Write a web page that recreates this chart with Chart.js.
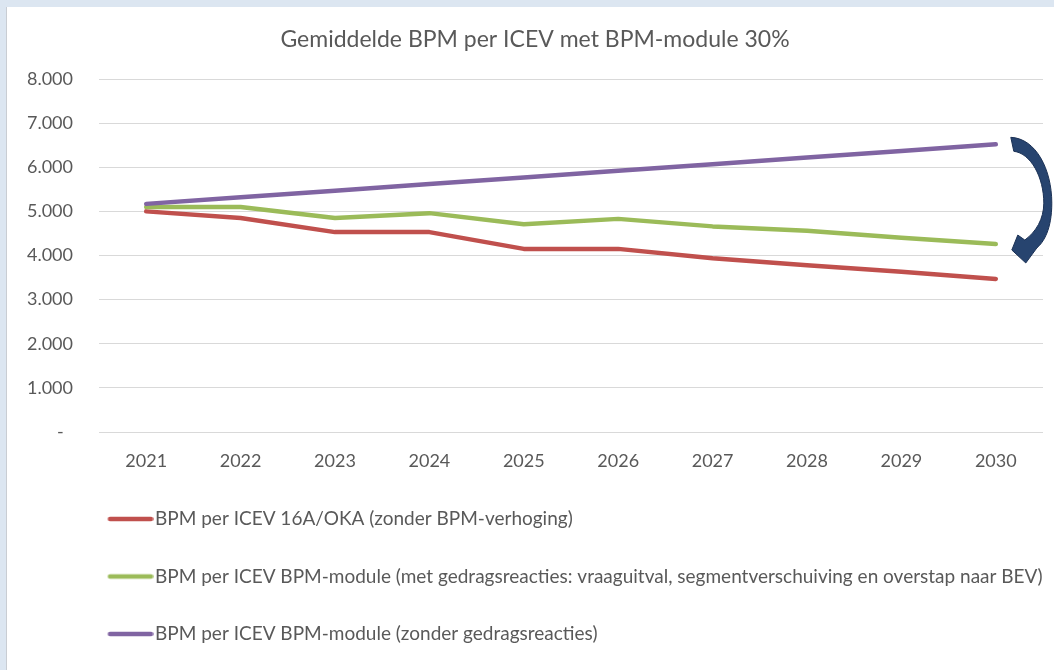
<!DOCTYPE html>
<html><head><meta charset="utf-8">
<script src="https://cdn.jsdelivr.net/npm/chart.js@4.4.1/dist/chart.umd.min.js"></script>
<style>
html,body{margin:0;padding:0;}
body{width:1054px;height:670px;background:#dce6f1;position:relative;overflow:hidden;}
#frame{position:absolute;left:6px;top:7px;right:0;bottom:0;background:#fff;border-left:1px solid #c9cdd3;}
#wrap{position:absolute;left:0;top:0;width:1054px;height:670px;}
</style></head><body>
<div id="frame"></div>
<div id="wrap"><canvas id="c" width="1054" height="670"></canvas></div>
<script>
const years = ['2021','2022','2023','2024','2025','2026','2027','2028','2029','2030'];
const redValues = [5000,4850,4530,4530,4150,4150,3940,3780,3630,3470];
const greenValues = [5100,5100,4850,4960,4710,4830,4660,4560,4400,4260];
const purpleValues = [5170,5320,5470,5620,5770,5920,6070,6220,6370,6520];
const yTickLabels = ['-  ','1.000','2.000','3.000','4.000','5.000','6.000','7.000','8.000'];
const seriesLabels = [
  'BPM per ICEV 16A/OKA (zonder BPM-verhoging)',
  'BPM per ICEV BPM-module (met gedragsreacties: vraaguitval, segmentverschuiving en overstap naar BEV)',
  'BPM per ICEV BPM-module (zonder gedragsreacties)'
];
const seriesColors = ['#c0504d','#9bbb59','#8064a2'];
const titleText = 'Gemiddelde BPM per ICEV met BPM-module 30%';

const FONT = 'Lato';
const TXT = '#595959';

function legendImage(color){
  const c = document.createElement('canvas');
  c.width = 96; c.height = 8;
  const x = c.getContext('2d');
  x.strokeStyle = color; x.lineWidth = 4.5; x.lineCap = 'round';
  x.beginPath(); x.moveTo(52.5,4); x.lineTo(93.5,4); x.stroke();
  return c;
}
const legendImgs = seriesColors.map(legendImage);

const arrowPlugin = {
  id: 'curvedArrow',
  afterDatasetsDraw(chart){
    const xs = chart.scales.x, ys = chart.scales.y;
    const X = xs.getPixelForValue(years.length - 1);
    const yp = ys.getPixelForValue(purpleValues[purpleValues.length-1]);
    const yg = ys.getPixelForValue(greenValues[greenValues.length-1]);
    const P = (dx, t) => [X + dx, yp + t * (yg - yp)];
    const ctx = chart.ctx;
    const bz = (c1, c2, e) => {
      const a = P(c1[0], c1[1]), b = P(c2[0], c2[1]), d = P(e[0], e[1]);
      ctx.bezierCurveTo(a[0], a[1], b[0], b[1], d[0], d[1]);
    };
    const ln = (dx, t) => { const q = P(dx, t); ctx.lineTo(q[0], q[1]); };
    ctx.save();
    ctx.beginPath();
    const s = P(15, -0.07); ctx.moveTo(s[0], s[1]);
    bz([40, -0.06], [56, 0.25], [56, 0.59]);
    bz([56, 0.85], [48, 0.98], [41, 1.04]);
    ln(30, 1.19);
    ln(16, 1.06);
    ln(22, 0.91);
    ln(29, 0.96);
    bz([40, 0.88], [48, 0.75], [48, 0.59]);
    bz([48, 0.33], [35, 0.09], [18, 0.07]);
    ctx.closePath();
    ctx.fillStyle = '#27446f';
    ctx.fill();
    ctx.strokeStyle = '#1b3155';
    ctx.lineWidth = 1;
    ctx.stroke();
    ctx.restore();
  }
};

const datasets = [redValues, greenValues, purpleValues].map((vals, i) => ({
  label: seriesLabels[i],
  data: vals,
  borderColor: seriesColors[i],
  backgroundColor: seriesColors[i],
  borderWidth: 4.5,
  borderCapStyle: 'round',
  borderJoinStyle: 'round',
  pointRadius: 0,
  pointHoverRadius: 0,
  tension: 0,
  fill: false,
  order: 3 - i
}));

new Chart(document.getElementById('c'), {
  type: 'line',
  data: { labels: years, datasets },
  options: {
    responsive: false,
    devicePixelRatio: 1,
    animation: false,
    events: [],
    layout: { padding: { left: 27, right: 11, top: 0, bottom: 16.5 } },
    plugins: {
      title: {
        display: true, text: titleText, color: TXT,
        font: { family: FONT, size: 23, weight: 'normal' },
        padding: { top: 26.2, bottom: 25.2 }
      },
      legend: {
        display: true, position: 'bottom', align: 'start',
        labels: {
          usePointStyle: true, pointStyleWidth: 80, padding: 38.5,
          color: TXT, font: { family: FONT, size: 19 },
          sort: (a, b) => a.datasetIndex - b.datasetIndex,
          generateLabels(chart){
            const items = Chart.defaults.plugins.legend.labels.generateLabels(chart);
            items.forEach((it) => { it.pointStyle = legendImgs[it.datasetIndex]; });
            return items;
          }
        }
      },
      tooltip: { enabled: false }
    },
    scales: {
      x: {
        offset: true,
        grid: { display: false, drawTicks: false, offset: true },
        border: { display: false },
        ticks: { color: TXT, font: { family: FONT, size: 18 }, padding: 18, maxRotation: 0 },
        afterFit(s){ s.height = 39; }
      },
      y: {
        min: 0, max: 8000,
        grid: { color: '#d9d9d9', lineWidth: 1, drawTicks: false },
        border: { display: false },
        ticks: {
          stepSize: 1000, color: TXT, font: { family: FONT, size: 18 }, padding: 26,
          callback: (v, i) => yTickLabels[i]
        },
        afterFit(s){ s.width = 72; }
      }
    }
  },
  plugins: [arrowPlugin]
});
</script>
</body></html>
